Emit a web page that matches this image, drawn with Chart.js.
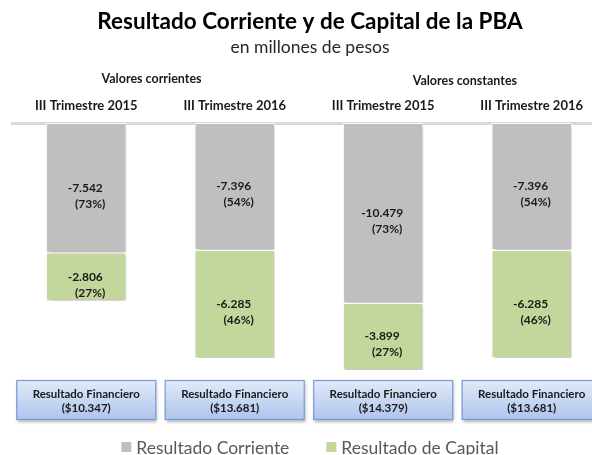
<!DOCTYPE html>
<html lang="es">
<head>
<meta charset="utf-8">
<title>Resultado Corriente y de Capital de la PBA</title>
<script src="https://cdn.jsdelivr.net/npm/chart.js@4"></script>
<style>
    body { margin: 0; background: #fff; }
    #grafico { display: block; }
</style>
</head>
<body>
<canvas id="grafico" width="592" height="455"></canvas>
<script>
// --- Datos del gráfico (en millones de pesos) ---
const trimestres = ['III Trimestre 2015', 'III Trimestre 2016', 'III Trimestre 2015', 'III Trimestre 2016'];
const grupos = ['Valores corrientes', 'Valores constantes'];
const resultadoCorriente = [-7542, -7396, -10479, -7396];
const resultadoCapital = [-2806, -6285, -3899, -6285];
const resultadoFinanciero = [10347, 13681, 14379, 13681];

const colorCorriente = '#bfbfbf';
const colorCapital = '#c3d69b';
const series = [resultadoCorriente, resultadoCapital];

Chart.defaults.font.family = 'Lato, "Open Sans", sans-serif';

// Formato con punto de miles (7.542)
function formatoMiles(n) {
    const s = Math.abs(n).toString().replace(/\B(?=(\d{3})+(?!\d))/g, '.');
    return (n < 0 ? '-' : '') + s;
}

// --- Sombra suave en las barras ---
const sombraBarras = {
    id: 'sombraBarras',
    beforeDatasetDraw(chart) {
        const ctx = chart.ctx;
        ctx.save();
        ctx.shadowColor = 'rgba(0,0,0,0.28)';
        ctx.shadowBlur = 3;
        ctx.shadowOffsetX = 1;
        ctx.shadowOffsetY = 2;
    },
    afterDatasetDraw(chart) {
        chart.ctx.restore();
    }
};

// --- Etiquetas dentro de cada segmento: valor y porcentaje ---
const etiquetasBarras = {
    id: 'etiquetasBarras',
    afterDatasetsDraw(chart) {
        const ctx = chart.ctx;
        ctx.save();
        ctx.font = 'bold 12px Lato, sans-serif';
        ctx.fillStyle = '#1a1a1a';
        ctx.textAlign = 'center';
        ctx.textBaseline = 'middle';
        series.forEach((valores, di) => {
            const meta = chart.getDatasetMeta(di);
            meta.data.forEach((el, i) => {
                const { x, y, base } = el.getProps(['x', 'y', 'base'], true);
                const total = Math.abs(resultadoCorriente[i] + resultadoCapital[i]);
                const pct = Math.round(Math.abs(valores[i]) / total * 100);
                const medio = (y + base) / 2;
                ctx.fillText(formatoMiles(valores[i]), x - 1, medio);
                ctx.fillText('(' + pct + '%)', x + 4, medio + 16);
            });
        });
        ctx.restore();
    }
};

// --- Títulos de grupo, recuadros de Resultado Financiero y leyenda ---
const extras = {
    id: 'extras',
    afterDraw(chart) {
        const ctx = chart.ctx;
        const xScale = chart.scales.x;
        const area = chart.chartArea;
        ctx.save();

        // Títulos de grupo sobre los trimestres
        ctx.font = 'bold 12.5px Lato, sans-serif';
        ctx.fillStyle = '#1a1a1a';
        ctx.textAlign = 'center';
        ctx.textBaseline = 'middle';
        ctx.fillText(grupos[0], xScale.getPixelForValue(0.44), area.top - 44);
        ctx.fillText(grupos[1], xScale.getPixelForValue(2.55), area.top - 42);

        // Recuadros azules
        const anchoCaja = 140, altoCaja = 40, topCaja = area.bottom + 5;
        resultadoFinanciero.forEach((v, i) => {
            const cx = xScale.getPixelForValue(i);
            const x0 = cx - anchoCaja / 2;
            ctx.save();
            ctx.shadowColor = 'rgba(0,0,0,0.3)';
            ctx.shadowBlur = 3;
            ctx.shadowOffsetX = 1;
            ctx.shadowOffsetY = 2;
            const grad = ctx.createLinearGradient(0, topCaja, 0, topCaja + altoCaja);
            grad.addColorStop(0, '#e2eaf9');
            grad.addColorStop(1, '#adc4ec');
            ctx.fillStyle = grad;
            ctx.fillRect(x0, topCaja, anchoCaja, altoCaja);
            ctx.restore();
            ctx.strokeStyle = '#7b9dd4';
            ctx.lineWidth = 1.2;
            ctx.strokeRect(x0 + 0.5, topCaja + 0.5, anchoCaja - 1, altoCaja - 1);
            ctx.fillStyle = '#1a1a1a';
            ctx.font = 'bold 11.5px Lato, sans-serif';
            ctx.fillText('Resultado Financiero', cx, topCaja + 14);
            ctx.fillText('($' + formatoMiles(v) + ')', cx, topCaja + 28);
        });

        // Leyenda (centrada como el título)
        ctx.font = '17.5px Lato, sans-serif';
        ctx.textAlign = 'left';
        const items = chart.data.datasets.map(ds => ({ texto: ds.label, color: ds.backgroundColor }));
        const sep = 37;
        const anchos = items.map(it => 15 + ctx.measureText(it.texto).width);
        const total = anchos.reduce((a, b) => a + b, 0) + sep * (items.length - 1);
        const tb = chart.titleBlock;
        let lx = (tb.left + tb.right) / 2 - total / 2;
        const ly = 447;
        items.forEach((it, k) => {
            ctx.fillStyle = it.color;
            ctx.fillRect(lx, ly - 5, 10, 10);
            ctx.fillStyle = '#595959';
            ctx.fillText(it.texto, lx + 15, ly + 1);
            lx += anchos[k] + sep;
        });
        ctx.restore();
    }
};

document.addEventListener('DOMContentLoaded', () => {
    const canvas = document.getElementById('grafico');

    new Chart(canvas, {
        type: 'bar',
        data: {
            datasets: [
                {
                    label: 'Resultado Corriente',
                    data: resultadoCorriente.map((v, i) => ({ x: i, y: v })),
                    backgroundColor: colorCorriente,
                    borderColor: 'rgba(255,255,255,0.9)',
                    borderWidth: 1,
                    borderSkipped: false
                },
                {
                    label: 'Resultado de Capital',
                    data: resultadoCapital.map((v, i) => ({ x: i, y: v })),
                    backgroundColor: colorCapital,
                    borderColor: 'rgba(255,255,255,0.9)',
                    borderWidth: 1,
                    borderSkipped: false
                }
            ]
        },
        options: {
            responsive: false,
            animation: false,
            devicePixelRatio: 1,
            layout: { padding: { left: 12, right: -16, top: 0, bottom: 80 } },
            barPercentage: 0.54,
            categoryPercentage: 1,
            plugins: {
                title: {
                    display: true,
                    text: 'Resultado Corriente y de Capital de la PBA',
                    color: '#000',
                    font: { size: 22.5, weight: 'bold' },
                    padding: { top: 8.5, bottom: 1 }
                },
                subtitle: {
                    display: true,
                    text: 'en millones de pesos',
                    color: '#262626',
                    font: { size: 17.5 },
                    padding: { top: 0, bottom: 0 }
                },
                legend: { display: false },
                tooltip: { enabled: false }
            },
            scales: {
                x: {
                    type: 'linear',
                    position: 'top',
                    stacked: true,
                    offset: false,
                    // el gráfico original está recortado a la derecha
                    min: -0.5,
                    max: 3.4,
                    grid: { display: false, drawTicks: false },
                    border: { display: true, color: '#d9d9d9', width: 3 },
                    afterBuildTicks(scale) {
                        scale.ticks = trimestres.map((t, i) => ({ value: i }));
                    },
                    ticks: {
                        color: '#1a1a1a',
                        font: { size: 13, weight: 'bold' },
                        padding: 9,
                        maxRotation: 0,
                        autoSkip: false,
                        callback: (value) => trimestres[Math.round(value)]
                    },
                    afterFit(scale) { scale.height = 65.5; }
                },
                y: {
                    display: false,
                    stacked: true,
                    min: -14670,
                    max: 0
                }
            }
        },
        plugins: [sombraBarras, etiquetasBarras, extras]
    });
});
</script>
</body>
</html>
